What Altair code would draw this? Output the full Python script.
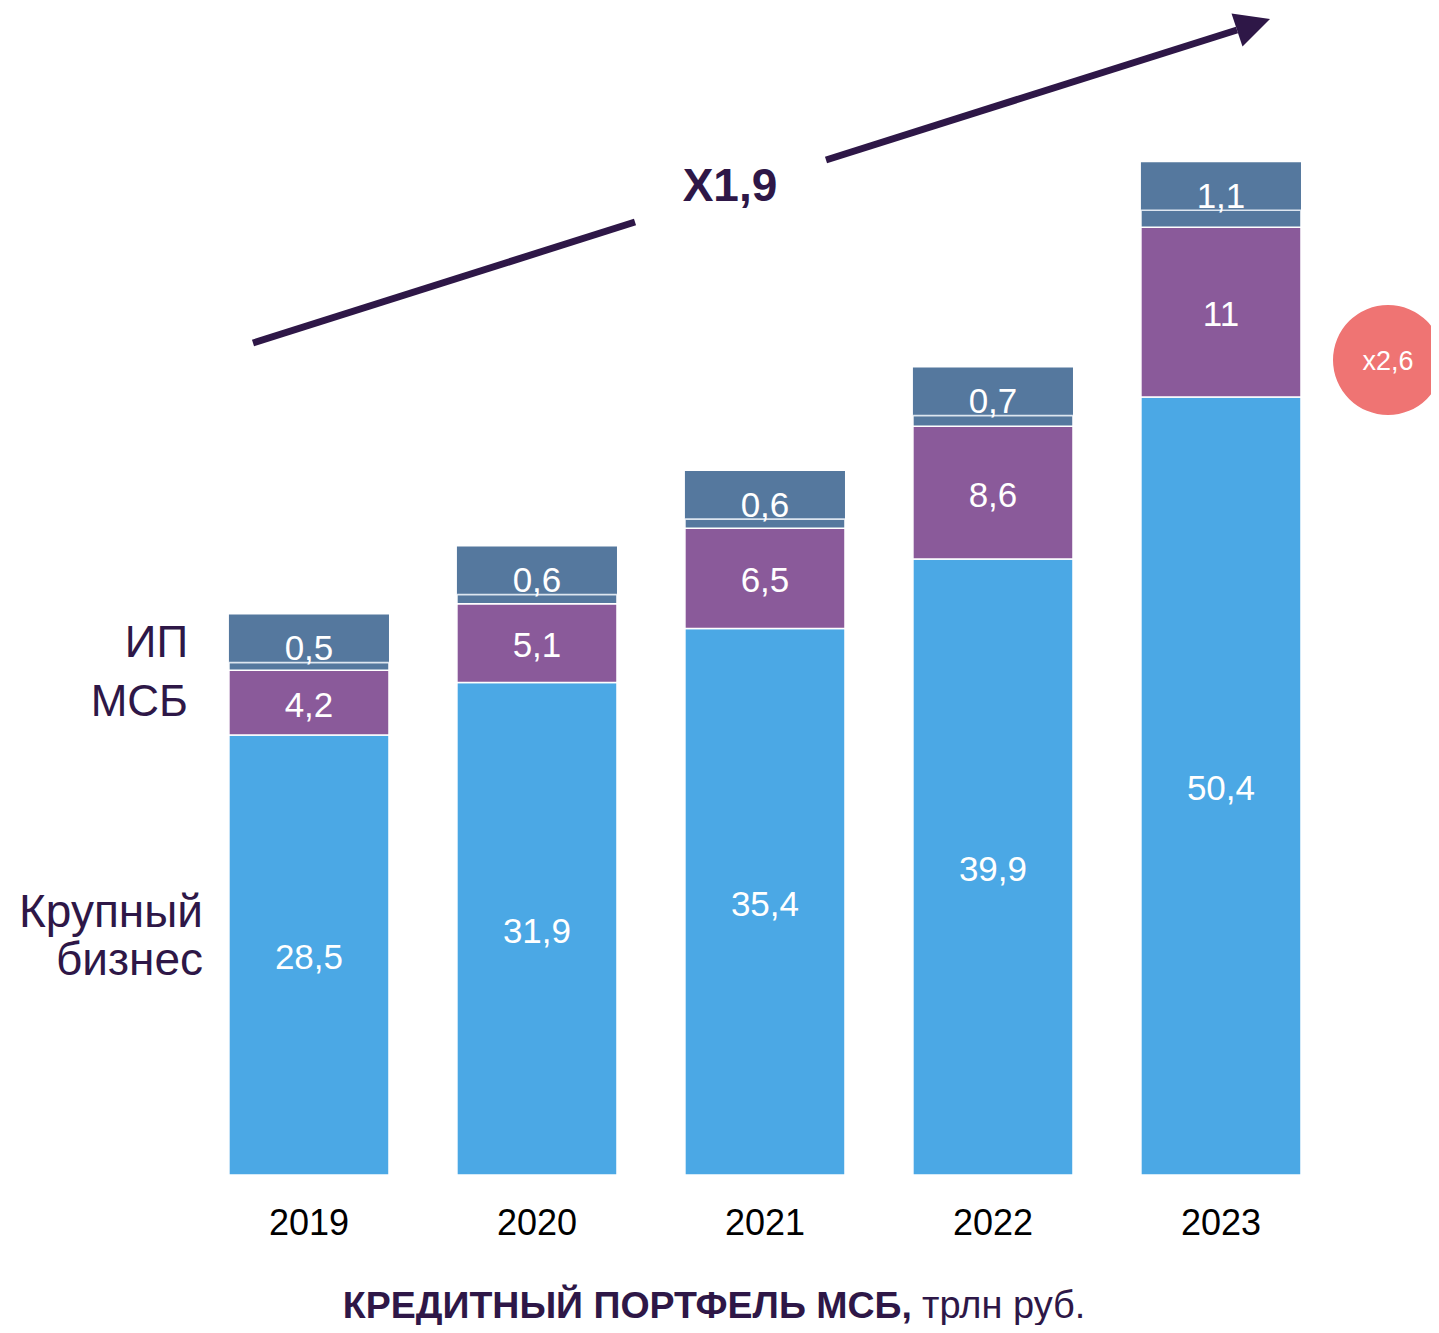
import altair as alt
import pandas as pd

years = [2019, 2020, 2021, 2022, 2023]
large = [28.5, 31.9, 35.4, 39.9, 50.4]
sme = [4.2, 5.1, 6.5, 8.6, 11.0]
ip = [0.5, 0.6, 0.6, 0.7, 1.1]
categories = ["Крупный бизнес", "МСБ", "ИП"]
colors = ["#4BA8E5", "#8A5A9A", "#55789E"]

FONT = "Liberation Sans"
DARK = "#2E1747"
W, H = 1423, 1317
XD = [2017.680, 2017.680 + W / 228.0]
YD = [-9.717, 75.598]
HALF = 0.351
BOX = 3.11


def fmt(v):
    return f"{v:g}".replace(".", ",")


rows = []
boxes = []
for i, yr in enumerate(years):
    base = 0.0
    for cat, val in zip(categories, [large[i], sme[i], ip[i]]):
        rows.append(dict(year=yr, xa=yr - HALF, xb=yr + HALF, cat=cat,
                         y0=base, y1=base + val, mid=base + val / 2, label=fmt(val)))
        base += val
    boxes.append(dict(year=yr, xa=yr - HALF, xb=yr + HALF, y0=base, y1=base + BOX,
                      ly=base + 1.05, label=fmt(ip[i])))
seg = pd.DataFrame(rows)
box = pd.DataFrame(boxes)

xs = alt.Scale(domain=XD, range=[0, W], nice=False, zero=False)
ys = alt.Scale(domain=YD, range=[H, 0], nice=False, zero=False)
col = alt.Scale(domain=categories, range=colors)

bars = alt.Chart(seg).mark_bar(stroke="white", strokeWidth=1.5).encode(
    x=alt.X("xa:Q", scale=xs, axis=None), x2="xb:Q",
    y=alt.Y("y0:Q", scale=ys, axis=None), y2="y1:Q",
    color=alt.Color("cat:N", scale=col, legend=None),
)
boxbars = alt.Chart(box).mark_bar(color="#55789E").encode(
    x=alt.X("xa:Q", scale=xs, axis=None), x2="xb:Q",
    y=alt.Y("y0:Q", scale=ys, axis=None), y2="y1:Q",
)
sep = alt.Chart(box).mark_rule(color="#DDE6F0", strokeWidth=1.5).encode(
    x=alt.X("xa:Q", scale=xs, axis=None), x2="xb:Q",
    y=alt.Y("y0:Q", scale=ys, axis=None),
)
seglabels = alt.Chart(seg[seg["cat"] != "ИП"]).mark_text(
    font=FONT, fontSize=35, color="white", baseline="middle", dy=3).encode(
    x=alt.X("year:Q", scale=xs, axis=None),
    y=alt.Y("mid:Q", scale=ys, axis=None), text="label:N")
iplabels = alt.Chart(box).mark_text(
    font=FONT, fontSize=35, color="white", baseline="middle", dy=3).encode(
    x=alt.X("year:Q", scale=xs, axis=None),
    y=alt.Y("ly:Q", scale=ys, axis=None), text="label:N")
yearlabels = alt.Chart(pd.DataFrame({"year": years, "t": [str(y) for y in years]})).mark_text(
    font=FONT, fontSize=36, color="black", baseline="middle").encode(
    x=alt.X("year:Q", scale=xs, axis=None), y=alt.value(1216), text="t:N")

ann = pd.DataFrame({"x": [0]})


def txt(t, x, y, size, align="center", bold=False, color=DARK, baseline="middle"):
    return alt.Chart(ann).mark_text(
        text=t, font=FONT, fontSize=size, color=color, align=align, baseline=baseline,
        fontWeight="bold" if bold else "normal").encode(x=alt.value(x), y=alt.value(y))


left = [
    txt("ИП", 180, 636, 44, align="right"),
    txt("МСБ", 180, 695, 44, align="right"),
    txt("Крупный", 195, 905, 46, align="right"),
    txt("бизнес", 195, 953, 46, align="right"),
]

arrow1 = alt.Chart(ann).mark_rule(color=DARK, strokeWidth=7, strokeCap="butt").encode(
    x=alt.value(245), y=alt.value(335), x2=alt.value(627), y2=alt.value(214))
arrow2 = alt.Chart(ann).mark_rule(color=DARK, strokeWidth=7, strokeCap="butt").encode(
    x=alt.value(818), y=alt.value(152), x2=alt.value(1229), y2=alt.value(22))
head = alt.Chart(ann).mark_point(
    shape="M1,0 L-1,-1 L-1,1 Z", filled=True, color=DARK, opacity=1, size=1211, angle=341.6
).encode(x=alt.value(1245.5), y=alt.value(16.5))
x19 = txt("X1,9", 722, 179, 46, bold=True)

circle = alt.Chart(ann).mark_point(shape="circle", filled=True, color="#EF7473", opacity=1,
                                   size=12100).encode(x=alt.value(1380), y=alt.value(352))
x26 = txt("x2,6", 1380, 354, 27, color="white")

title1 = txt("КРЕДИТНЫЙ ПОРТФЕЛЬ МСБ,", 904, 1310, 37.5, align="right", bold=True,
             baseline="alphabetic")
title2 = txt("трлн руб.", 914, 1310, 38, align="left", baseline="alphabetic")

chart = alt.layer(
    bars, boxbars, sep, seglabels, iplabels, yearlabels, *left,
    arrow1, arrow2, head, x19, circle, x26, title1, title2
).properties(
    width=W, height=H, padding=0, autosize=alt.AutoSizeParams(type="none")
).configure_view(stroke=None)

chart.save("out.html", embed_options={"renderer": "svg", "actions": False})
